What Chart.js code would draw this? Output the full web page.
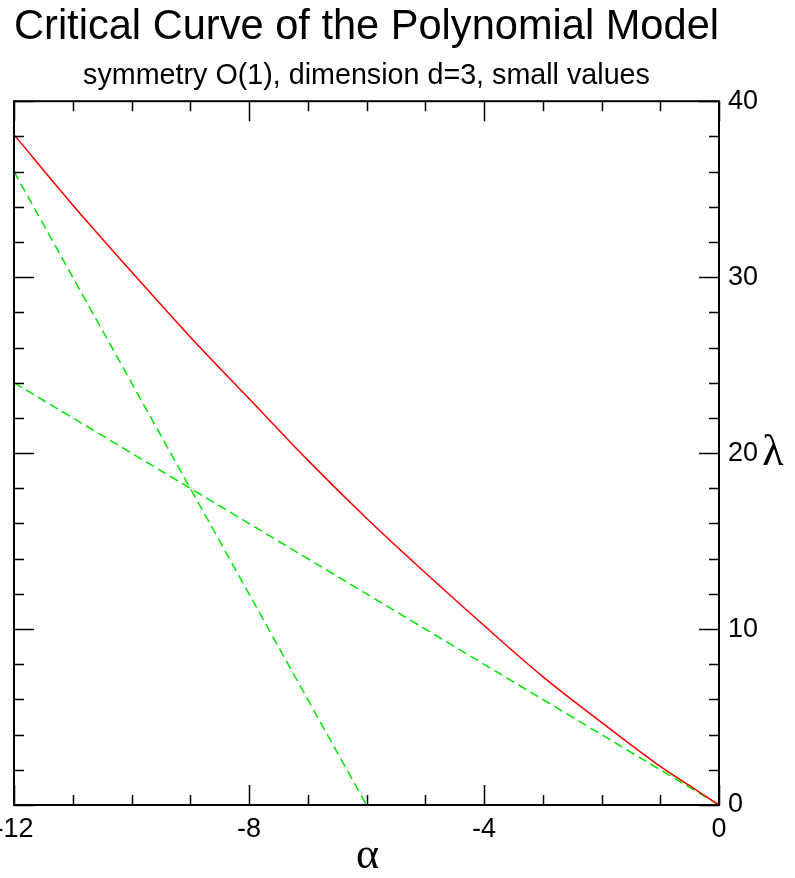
<!DOCTYPE html>
<html>
<head>
<meta charset="utf-8">
<script src="https://cdn.jsdelivr.net/npm/chart.js@4"></script>
<style>
  html, body { margin: 0; padding: 0; background: #fff; }
  #wrap { width: 795px; height: 878px; position: relative; }
</style>
</head>
<body>
<div id="wrap"><canvas id="chart"></canvas></div>
<script>
// values
const alpha = [-12, -11, -10, -9, -8, -7, -6, -5, -4, -3, -2, -1, -0.5, 0];
const lambdaCritical = [38.1, 34.1, 30.3, 26.6, 23.1, 19.6, 16.3, 13.2, 10.2, 7.3, 4.7, 2.2, 1.1, 0];

// dashed asymptote lines (two end points each)
const steepAlpha = [-12, -6];
const steepLambda = [36, 0];
const shallowAlpha = [-12, 0];
const shallowLambda = [24, 0];

const xTicks = [-12, -8, -4, 0];
const yTicks = [0, 10, 20, 30, 40];

const toPoints = (xs, ys) => xs.map((x, i) => ({ x: x, y: ys[i] }));

const SANS = "'Liberation Sans', Arial, Helvetica, sans-serif";
const SERIF = "'Liberation Serif', 'Times New Roman', serif";

Chart.defaults.color = "#000";

// frame, inward ticks on all four sides and the greek axis names
const framePlugin = {
  id: "frame",
  afterDatasetsDraw(chart) {
    const { ctx, chartArea: a, scales } = chart;
    const xs = scales.x;
    const ys = scales.y;
    ctx.save();
    ctx.strokeStyle = "#000";
    ctx.lineWidth = 2;
    ctx.strokeRect(a.left, a.top, a.right - a.left, a.bottom - a.top);

    ctx.lineWidth = 1.5;
    ctx.beginPath();
    for (let v = -12; v <= 0; v += 1) {
      const px = Math.round(xs.getPixelForValue(v)) + 0.5;
      const len = v % 4 === 0 ? 20 : 10;
      ctx.moveTo(px, a.bottom);
      ctx.lineTo(px, a.bottom - len);
      ctx.moveTo(px, a.top);
      ctx.lineTo(px, a.top + len);
    }
    for (let v = 0; v <= 40; v += 2) {
      const py = Math.round(ys.getPixelForValue(v)) + 0.5;
      const len = v % 10 === 0 ? 20 : 10;
      ctx.moveTo(a.left, py);
      ctx.lineTo(a.left + len, py);
      ctx.moveTo(a.right, py);
      ctx.lineTo(a.right - len, py);
    }
    ctx.stroke();

    ctx.fillStyle = "#000";
    ctx.font = "44px " + SERIF;
    ctx.textAlign = "center";
    ctx.textBaseline = "middle";
    ctx.fillText("α", (a.left + a.right) / 2 + 1, a.bottom + 51);
    ctx.fillText("λ", a.right + 54, (a.top + a.bottom) / 2);
    ctx.restore();
  },
};

new Chart(document.getElementById("chart"), {
  type: "scatter",
  data: {
    datasets: [
      {
        label: "critical curve",
        data: toPoints(alpha, lambdaCritical),
        showLine: true,
        borderColor: "#ff0000",
        borderWidth: 1.5,
        pointRadius: 0,
        cubicInterpolationMode: "monotone",
      },
      {
        label: "steep",
        data: toPoints(steepAlpha, steepLambda),
        showLine: true,
        borderColor: "#00e600",
        borderWidth: 1.5,
        borderDash: [9, 5],
        pointRadius: 0,
      },
      {
        label: "shallow",
        data: toPoints(shallowAlpha, shallowLambda),
        showLine: true,
        borderColor: "#00e600",
        borderWidth: 1.5,
        borderDash: [9, 5],
        pointRadius: 0,
      },
    ],
  },
  options: {
    responsive: true,
    maintainAspectRatio: false,
    animation: false,
    layout: { padding: { left: 14, right: 0, top: 0, bottom: 0 } },
    plugins: {
      legend: { display: false },
      tooltip: { enabled: false },
      title: {
        display: true,
        text: "Critical Curve of the Polynomial Model",
        fullSize: false,
        color: "#000",
        font: { family: SANS, size: 42.5, weight: "normal", lineHeight: 1 },
        padding: { top: 6, bottom: 13 },
      },
      subtitle: {
        display: true,
        text: "symmetry O(1), dimension d=3, small values",
        fullSize: false,
        color: "#000",
        font: { family: SANS, size: 28.7, weight: "normal", lineHeight: 1 },
        padding: { top: 0, bottom: 11 },
      },
    },
    scales: {
      x: {
        type: "linear",
        position: "bottom",
        min: -12,
        max: 0,
        grid: { display: false, drawTicks: false },
        border: { display: false },
        afterBuildTicks: (s) => {
          s.ticks = xTicks.map((v) => ({ value: v }));
        },
        afterFit: (s) => {
          s.height = 73;
          s.paddingLeft = 0;
          s.paddingRight = 0;
        },
        ticks: {
          autoSkip: false,
          maxRotation: 0,
          padding: 8,
          font: { family: SANS, size: 27 },
          callback: (v) => String(v),
        },
      },
      y: {
        type: "linear",
        position: "right",
        min: 0,
        max: 40,
        grid: { display: false, drawTicks: false },
        border: { display: false },
        afterBuildTicks: (s) => {
          s.ticks = yTicks.map((v) => ({ value: v }));
        },
        afterFit: (s) => {
          s.width = 76;
          s.paddingTop = 0;
          s.paddingBottom = 0;
        },
        ticks: {
          autoSkip: false,
          padding: 9,
          font: { family: SANS, size: 27 },
          callback: (v) => String(v),
        },
      },
    },
  },
  plugins: [framePlugin],
});
</script>
</body>
</html>
